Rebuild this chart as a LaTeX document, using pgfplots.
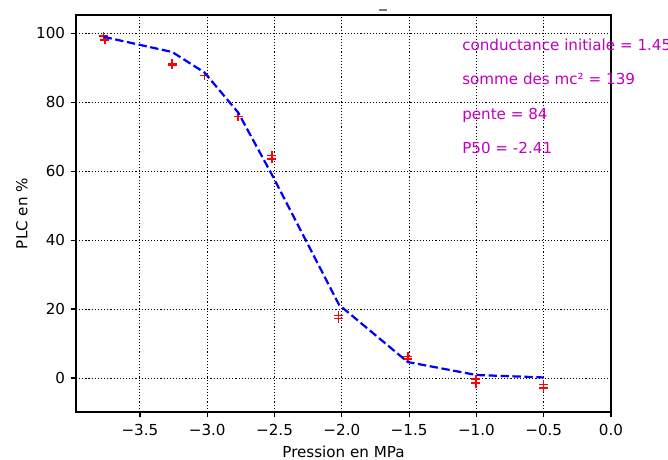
\documentclass[border=0pt]{standalone}
\usepackage{pgfplots}
\pgfplotsset{compat=1.18}
\usepackage{fontspec}
\setmainfont{DejaVu Sans}
\definecolor{mplm}{rgb}{0.75,0,0.75}
\begin{document}
\begin{tikzpicture}[x=1pt,y=1pt]
\useasboundingbox (-54.72,-34.56) rectangle (426.24,296.64);
\begin{axis}[at={(0,0)}, anchor=south west, scale only axis,
  width=385.2pt, height=285.84pt,
  xmin=-3.975, xmax=0, ymin=-9.86, ymax=105.3,
  xtick={-3.5,-3,-2.5,-2,-1.5,-1,-0.5,0},
  xticklabels={−3.5,−3.0,−2.5,−2.0,−1.5,−1.0,−0.5,0.0},
  ytick={0,20,40,60,80,100},
  yticklabels={0,20,40,60,80,100},
  tick align=outside, tick pos=left, major tick length=3.8pt,
  tick style={black, line width=0.85pt},
  grid=major,
  grid style={black, line width=0.65pt, dash pattern=on 0.85pt off 1.4pt},
  axis line style={black, line width=0.85pt},
  font=\fontsize{10.9}{13}\selectfont,
  xticklabel style={yshift=-1.5pt},
  yticklabel style={xshift=-0.5pt},
  xlabel={Pression en MPa}, ylabel={PLC en \%},
  xlabel style={at={(axis description cs:0.5,0)}, yshift=-28.6pt, anchor=center},
  ylabel style={at={(axis description cs:0,0.5)}, yshift=38.9pt, anchor=center},
  clip mode=individual,
]
\addplot[only marks, mark=+, red, mark size=3.2pt, mark options={line width=1.1pt}] coordinates {
(-3.77,99.2) (-3.76,98.1)
(-3.26,91.2) (-3.26,90.8)
(-3.02,87.7)
(-2.77,75.8)
(-2.52,64.5) (-2.52,63.6)
(-2.025,18.1) (-2.025,17.2)
(-1.51,6.3) (-1.51,5.5)
(-1.005,-0.3) (-1.005,-1.5)
(-0.503,-1.9) (-0.503,-2.9)
};
\addplot[blue, line width=1.6pt, dash pattern=on 6pt off 2.6pt] coordinates {
(-3.77,98.97) (-3.26,94.56) (-3.02,88.6) (-2.77,77.0) (-2.51,58.3)
(-2.02,21.2) (-1.51,4.63) (-1.0,0.87) (-0.5,0.16)
};
\node[anchor=base west, text=mplm, inner sep=0pt] at (axis cs:-1.107,95) {conductance initiale = 1.45};
\node[anchor=base west, text=mplm, inner sep=0pt] at (axis cs:-1.107,85) {somme des mc² = 139};
\node[anchor=base west, text=mplm, inner sep=0pt] at (axis cs:-1.107,75) {pente = 84};
\node[anchor=base west, text=mplm, inner sep=0pt] at (axis cs:-1.107,65) {P50 = -2.41};
\end{axis}
\node[anchor=base, inner sep=0pt, font=\fontsize{10.9}{13}\selectfont] at (221.1,291) {\_};
\end{tikzpicture}
\end{document}
